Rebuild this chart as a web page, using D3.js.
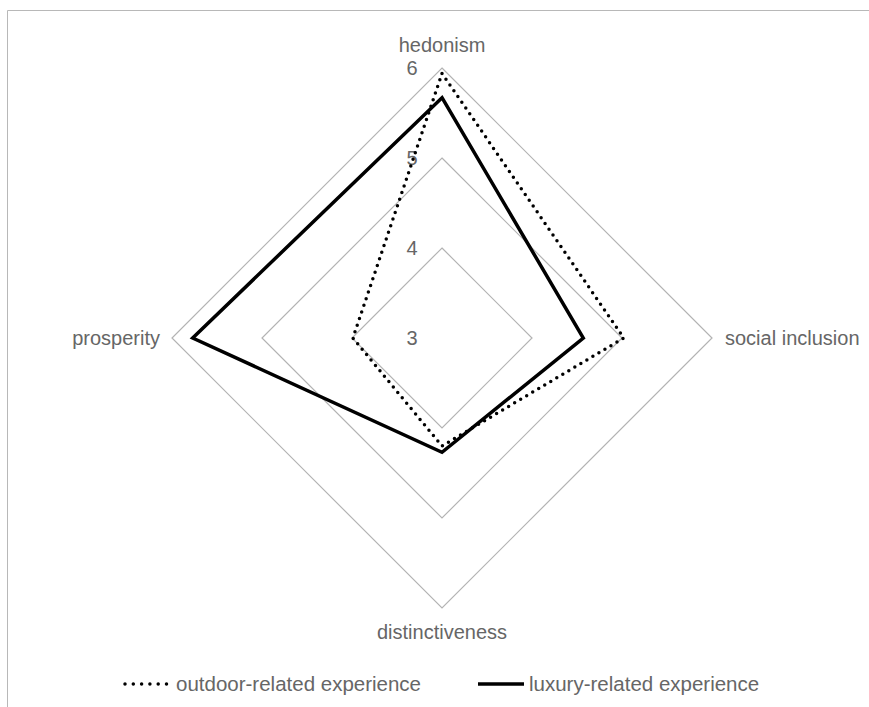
<!DOCTYPE html>
<html>
<head>
<meta charset="utf-8">
<script src="https://cdn.jsdelivr.net/npm/d3@7"></script>
<style>
  body { margin: 0; background: #fff; }
  text { font-family: "Liberation Sans", Arial, sans-serif; fill: #666; }
</style>
</head>
<body>
<div class="chart"></div>
<script>
// axes, clockwise from the top
const axes = ["hedonism", "social inclusion", "distinctiveness", "prosperity"];
const levels = [3, 4, 5, 6];
const seriesNames = ["outdoor-related experience", "luxury-related experience"];
const outdoor = [5.94, 5.02, 4.20, 3.99];
const luxury = [5.67, 4.57, 4.27, 5.77];

const width = 869, height = 707;
const cx = 442, cy = 338;

const svg = d3.select(".chart").append("svg")
    .attr("width", width)
    .attr("height", height);

// chart area border (only top and left visible)
svg.append("path")
    .attr("d", `M7.5,${height} V10.5 H${width}`)
    .attr("fill", "none")
    .attr("stroke", "#b8b8b8")
    .attr("stroke-width", 1);

const g = svg.append("g").attr("transform", `translate(${cx},${cy})`);

const r = d3.scaleLinear().domain([3, 6]).range([0, 270]);
const angle = d3.scaleLinear().domain([0, axes.length]).range([0, 2 * Math.PI]);

const radial = d3.lineRadial()
    .angle((d, i) => angle(i))
    .radius(d => r(d))
    .curve(d3.curveLinearClosed);

// grid rings
levels.slice(1).forEach(lv => {
    g.append("path")
        .datum(axes.map(() => lv))
        .attr("d", radial)
        .attr("fill", "none")
        .attr("stroke", "#b3b3b3")
        .attr("stroke-width", 1.2);
});

// tick labels along the top axis
g.selectAll(".tick")
    .data(levels)
    .join("text")
    .attr("x", -30)
    .attr("y", d => -r(d))
    .attr("text-anchor", "middle")
    .attr("dominant-baseline", "central")
    .attr("font-size", 20)
    .text(d => d);

// series
g.append("path")
    .datum(outdoor)
    .attr("d", radial)
    .attr("fill", "none")
    .attr("stroke", "#000")
    .attr("stroke-width", 3.5)
    .attr("stroke-linecap", "round")
    .attr("stroke-dasharray", "0,7");

g.append("path")
    .datum(luxury)
    .attr("d", radial)
    .attr("fill", "none")
    .attr("stroke", "#000")
    .attr("stroke-width", 3.5)
    .attr("stroke-linejoin", "miter");

// axis labels
const rOut = r(6);
const labelPos = [
    {x: 0, y: -rOut - 16, anchor: "middle"},
    {x: rOut + 13, y: 7, anchor: "start"},
    {x: 0, y: rOut + 31, anchor: "middle"},
    {x: -rOut - 12, y: 7, anchor: "end"}
];
g.selectAll(".axis-label")
    .data(axes)
    .join("text")
    .attr("x", (d, i) => labelPos[i].x)
    .attr("y", (d, i) => labelPos[i].y)
    .attr("text-anchor", (d, i) => labelPos[i].anchor)
    .attr("font-size", 20)
    .text(d => d);

// legend
const ly = 684;
svg.append("line")
    .attr("x1", 125).attr("x2", 167).attr("y1", ly).attr("y2", ly)
    .attr("stroke", "#000").attr("stroke-width", 3.5)
    .attr("stroke-linecap", "round").attr("stroke-dasharray", "0,8.3");
svg.append("text")
    .attr("x", 176).attr("y", ly + 7)
    .attr("font-size", 20.5)
    .text(seriesNames[0]);

svg.append("line")
    .attr("x1", 478).attr("x2", 524).attr("y1", ly).attr("y2", ly)
    .attr("stroke", "#000").attr("stroke-width", 3.5);
svg.append("text")
    .attr("x", 529).attr("y", ly + 7)
    .attr("font-size", 20.5)
    .text(seriesNames[1]);
</script>
</body>
</html>
